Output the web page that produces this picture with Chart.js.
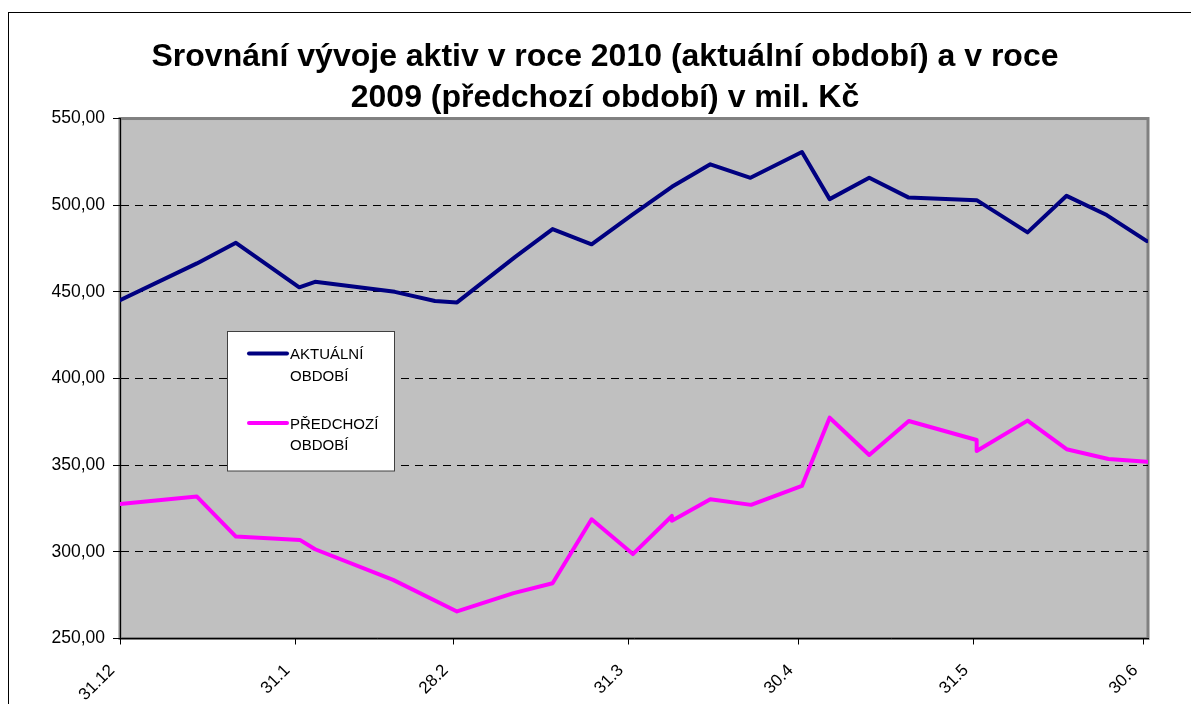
<!DOCTYPE html>
<html>
<head>
<meta charset="utf-8">
<script src="https://cdn.jsdelivr.net/npm/chart.js@4/dist/chart.umd.min.js"></script>
<style>
html,body{margin:0;padding:0;background:#fff;}
#wrap{width:1191px;height:704px;position:relative;}
</style>
</head>
<body>
<div id="wrap"><canvas id="c" width="1191" height="704"></canvas></div>
<script>
// ---- data (x = days since 31.12.) ----
const titleLines = ["Srovnání vývoje aktiv v roce 2010 (aktuální období) a v roce", "2009 (předchozí období) v mil. Kč"];
const tickDays = [0, 31, 59, 90, 120, 151, 181];
const tickLabels = ["31.12", "31.1", "28.2", "31.3", "30.4", "31.5", "30.6"];
const daysAktualni = [0, 13.6, 20.5, 31.7, 34.5, 48.6, 55.7, 59.6, 69.9, 76.5, 83.4, 90.5, 97.6, 104.4, 111.5, 120.6, 125.5, 132.5, 139.4, 151.5, 160.5, 167.4, 174.5, 181.6];
const aktualni = [445.2, 466.4, 478.3, 452.6, 455.8, 450.0, 444.7, 443.9, 470.2, 486.2, 477.4, 494.2, 510.6, 523.6, 515.8, 530.7, 503.5, 515.8, 504.5, 502.9, 484.3, 505.4, 494.3, 479.3];
const daysPredchozi = [0, 13.6, 20.5, 31.8, 34.5, 48.3, 59.6, 69.6, 76.5, 83.4, 90.7, 97.6, 97.6, 104.4, 111.6, 120.6, 125.5, 132.5, 139.5, 151.5, 151.5, 160.5, 167.4, 174.8, 181.6];
const predchozi = [327.6, 331.9, 308.8, 306.9, 301.5, 283.8, 265.6, 276.2, 281.9, 318.8, 298.7, 320.7, 318.0, 330.4, 327.1, 338.0, 377.4, 355.9, 375.5, 364.5, 358.2, 375.7, 359.2, 353.6, 352.0];
const seriesLabels = ["AKTUÁLNÍ OBDOBÍ", "PŘEDCHOZÍ OBDOBÍ"];
const seriesColors = ["#000080", "#FF00FF"];

const FONT = '"Liberation Sans", Arial, sans-serif';

const pts = (xs, ys) => xs.map((x, i) => ({x: x, y: ys[i]}));

const frame = {
  id: 'frame',
  beforeDraw(chart) {
    const ctx = chart.ctx, a = chart.chartArea;
    ctx.save();
    ctx.strokeStyle = '#000';
    ctx.lineWidth = 1;
    ctx.strokeRect(8.5, 12.5, 1400, 900);
    ctx.fillStyle = '#C0C0C0';
    ctx.fillRect(a.left, a.top, a.right - a.left, a.bottom - a.top);
    ctx.strokeStyle = '#808080';
    ctx.lineWidth = 3;
    ctx.strokeRect(a.left, a.top, a.right - a.left, a.bottom - a.top);
    ctx.restore();
  }
};

const customLegend = {
  id: 'customLegend',
  afterDraw(chart) {
    const ctx = chart.ctx;
    const bx = 227, by = 331.5, bw = 167, bh = 139.5;
    ctx.save();
    ctx.fillStyle = '#fff';
    ctx.fillRect(bx, by, bw, bh);
    ctx.strokeStyle = '#404040';
    ctx.lineWidth = 1;
    ctx.strokeRect(bx + 0.5, by, bw, bh);
    ctx.font = '15px ' + FONT;
    ctx.textBaseline = 'alphabetic';
    ctx.textAlign = 'left';
    chart.data.datasets.forEach((ds, i) => {
      const y0 = 353.5 + i * 69.5;
      ctx.strokeStyle = ds.borderColor;
      ctx.lineWidth = 4;
      ctx.lineCap = 'round';
      ctx.beginPath();
      ctx.moveTo(249, y0);
      ctx.lineTo(287, y0);
      ctx.stroke();
      ctx.fillStyle = '#000';
      ds.label.split(' ').forEach((w, j) => {
        ctx.fillText(w, 290, y0 + 5.5 + j * 21.5);
      });
    });
    ctx.restore();
  }
};

new Chart(document.getElementById('c'), {
  type: 'line',
  data: {
    datasets: [
      {label: seriesLabels[0], data: pts(daysAktualni, aktualni), borderColor: seriesColors[0], borderWidth: 4, pointRadius: 0, tension: 0, borderJoinStyle: 'round', borderCapStyle: 'round'},
      {label: seriesLabels[1], data: pts(daysPredchozi, predchozi), borderColor: seriesColors[1], borderWidth: 4, pointRadius: 0, tension: 0, borderJoinStyle: 'round', borderCapStyle: 'round'}
    ]
  },
  options: {
    responsive: false,
    animation: false,
    layout: {padding: {left: 41, right: 22, top: 12, bottom: 0}},
    plugins: {
      legend: {display: false},
      tooltip: {enabled: false},
      title: {
        display: true,
        text: titleLines,
        color: '#000',
        font: {family: FONT, size: 32, weight: 'bold', lineHeight: 1.266},
        padding: {top: 25.05, bottom: 0.45}
      }
    },
    scales: {
      x: {
        type: 'linear',
        min: 0, max: 181.8,
        afterBuildTicks: (s) => { s.ticks = tickDays.map(v => ({value: v})); },
        afterFit: (s) => { s.paddingRight = 43; s.height = 65.5; },
        ticks: {
          autoSkip: false,
          minRotation: 45, maxRotation: 45,
          color: '#000',
          font: {family: FONT, size: 17},
          padding: 16,
          labelOffset: -8,
          callback: (v) => { const i = tickDays.indexOf(v); return i >= 0 ? tickLabels[i] : ''; }
        },
        grid: {drawOnChartArea: false, drawTicks: true, tickLength: 6, tickColor: '#000', tickWidth: 1},
        border: {display: true, color: '#000', width: 1}
      },
      y: {
        min: 250, max: 550,
        afterFit: (s) => { s.width = 79; },
        ticks: {
          stepSize: 50,
          color: '#000',
          font: {family: FONT, size: 17.5},
          padding: 8,
          callback: (v) => v.toFixed(2).replace('.', ',')
        },
        grid: {
          color: (c) => (c.tick && (c.tick.value === 250 || c.tick.value === 550)) ? 'rgba(0,0,0,0)' : '#000',
          lineWidth: 1,
          tickColor: '#000', tickLength: 7, tickBorderDash: [],
          drawTicks: true
        },
        border: {display: true, color: '#000', width: 1, dash: [8, 6]}
      }
    }
  },
  plugins: [frame, customLegend]
});
</script>
</body>
</html>
